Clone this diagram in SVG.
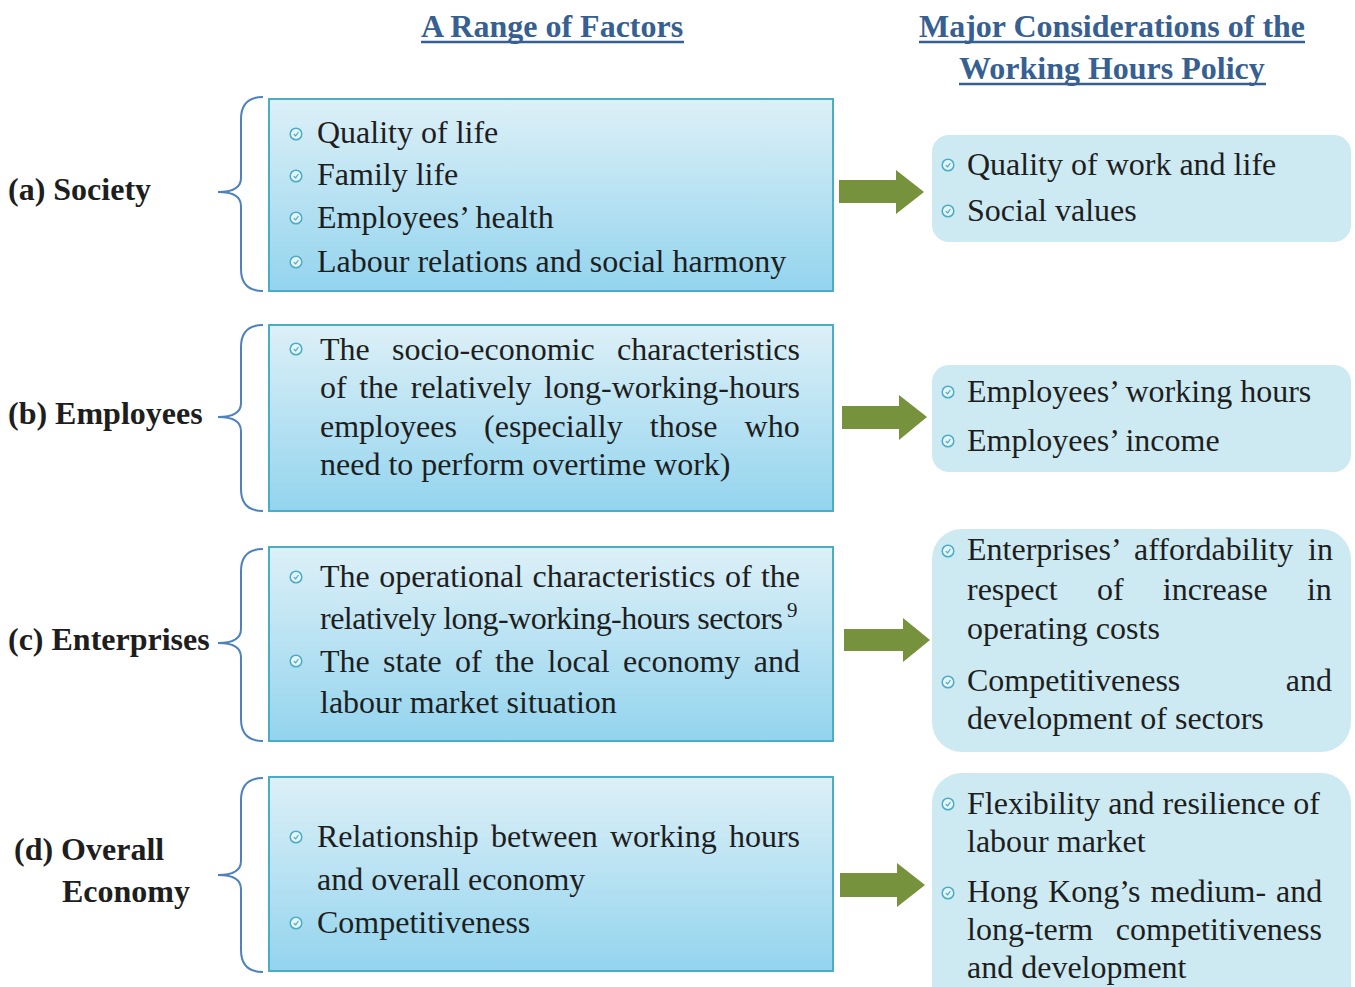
<svg xmlns="http://www.w3.org/2000/svg" width="1355" height="987" viewBox="0 0 1355 987">
<defs>
<linearGradient id="boxGrad" x1="0" y1="0" x2="0" y2="1">
<stop offset="0" stop-color="#ddf0f7"/>
<stop offset="1" stop-color="#93d4ee"/>
</linearGradient>
<symbol id="clock" viewBox="-7 -7 14 14" overflow="visible">
<circle cx="0" cy="0" r="5.8" fill="#e4f4f9" stroke="#4bacc6" stroke-width="1.5"/>
<path d="M-2.2,0.2 L-0.3,1.8 L2.4,-2" fill="none" stroke="#4bacc6" stroke-width="1.2"/>
</symbol>
<style>
.t{font-family:"Liberation Serif","Times New Roman",serif;font-size:32px;fill:#1e1e1e}
.lbl{font-family:"Liberation Serif","Times New Roman",serif;font-size:32px;font-weight:bold;fill:#1e1e1e}
.hd{font-family:"Liberation Serif","Times New Roman",serif;font-size:32px;font-weight:bold;fill:#376092}
.ul{stroke:#376092;stroke-width:2.6}
.lbox{fill:url(#boxGrad);stroke:#4bacc6;stroke-width:2}
.rbox{fill:#cdeaf2}
.brace{fill:none;stroke:#4f81bd;stroke-width:2}
.arrow{fill:#76923c}
</style>
</defs>
<rect x="0" y="0" width="1355" height="987" fill="#ffffff"/>

<g id="headings">
<text class="hd" x="421" y="37">A Range of Factors</text>
<line class="ul" x1="421" y1="42" x2="684" y2="42"/>
<text class="hd" x="919" y="37">Major Considerations of the</text>
<line class="ul" x1="919" y1="42" x2="1305" y2="42"/>
<text class="hd" x="959" y="79">Working Hours Policy</text>
<line class="ul" x1="959" y1="84" x2="1266" y2="84"/>
</g>

<g id="label-a"><text class="lbl" x="8" y="200">(a) Society</text></g>
<g id="label-b"><text class="lbl" x="8" y="424">(b) Employees</text></g>
<g id="label-c"><text class="lbl" x="8" y="650">(c) Enterprises</text></g>
<g id="label-d"><text class="lbl" x="14" y="860">(d) Overall</text><text class="lbl" x="62" y="902">Economy</text></g>

<g id="braces">
<path class="brace" d="M263,97 C248,97 241,105 241,119 L241,178 C241,187 233,192 218,192 C233,192 241,197 241,206 L241,269 C241,283 248,291 263,291"/>
<path class="brace" d="M263,325 C248,325 241,333 241,347 L241,403 C241,412 233,417 218,417 C233,417 241,422 241,431 L241,489 C241,503 248,511 263,511"/>
<path class="brace" d="M263,549 C248,549 241,557 241,571 L241,629 C241,638 233,643 218,643 C233,643 241,648 241,657 L241,719 C241,733 248,741 263,741"/>
<path class="brace" d="M263,778 C248,778 241,786 241,800 L241,861 C241,870 233,875 218,875 C233,875 241,880 241,889 L241,950 C241,964 248,972 263,972"/>
</g>

<g id="box-a">
<rect class="lbox" x="269" y="99" width="564" height="192"/>
<use href="#clock" x="289" y="127" width="14" height="14"/>
<text class="t" x="317" y="143">Quality of life</text>
<use href="#clock" x="289" y="169" width="14" height="14"/>
<text class="t" x="317" y="185">Family life</text>
<use href="#clock" x="289" y="211" width="14" height="14"/>
<text class="t" x="317" y="228">Employees’ health</text>
<use href="#clock" x="289" y="255" width="14" height="14"/>
<text class="t" x="317" y="272">Labour relations and social harmony</text>
</g>

<g id="box-b">
<rect class="lbox" x="269" y="325" width="564" height="186"/>
<use href="#clock" x="289" y="342" width="14" height="14"/>
<text class="t" x="320" y="360" word-spacing="14.3">The socio-economic characteristics</text>
<text class="t" x="320" y="398" word-spacing="4.5">of the relatively long-working-hours</text>
<text class="t" x="320" y="437" word-spacing="19.2">employees (especially those who</text>
<text class="t" x="320" y="475">need to perform overtime work)</text>
</g>

<g id="box-c">
<rect class="lbox" x="269" y="547" width="564" height="194"/>
<use href="#clock" x="289" y="570" width="14" height="14"/>
<text class="t" x="320" y="587" word-spacing="1.4">The operational characteristics of the</text>
<text class="t" x="320" y="629" textLength="463" lengthAdjust="spacing">relatively long-working-hours sectors</text>
<text class="t" x="787" y="617" style="font-size:21px">9</text>
<use href="#clock" x="289" y="654" width="14" height="14"/>
<text class="t" x="320" y="672" word-spacing="5.35">The state of the local economy and</text>
<text class="t" x="320" y="713">labour market situation</text>
</g>

<g id="box-d">
<rect class="lbox" x="269" y="777" width="564" height="194"/>
<use href="#clock" x="289" y="830" width="14" height="14"/>
<text class="t" x="317" y="847" word-spacing="4.3">Relationship between working hours</text>
<text class="t" x="317" y="890">and overall economy</text>
<use href="#clock" x="289" y="916" width="14" height="14"/>
<text class="t" x="317" y="933">Competitiveness</text>
</g>

<g id="connectors">
<polygon class="arrow" points="839,180 896,180 896,170 924,192 896,214 896,203 839,203"/>
<polygon class="arrow" points="842,406 899,406 899,395 927,417 899,440 899,429 842,429"/>
<polygon class="arrow" points="844,629 903,629 903,618 930,640 903,662 903,651 844,651"/>
<polygon class="arrow" points="840,873 897,873 897,863 925,885 897,907 897,897 840,897"/>
</g>

<g id="out-1">
<rect class="rbox" x="932" y="135" width="419" height="107" rx="17"/>
<use href="#clock" x="941" y="158" width="14" height="14"/>
<text class="t" x="967" y="175">Quality of work and life</text>
<use href="#clock" x="941" y="204" width="14" height="14"/>
<text class="t" x="967" y="221">Social values</text>
</g>

<g id="out-2">
<rect class="rbox" x="932" y="365" width="419" height="107" rx="17"/>
<use href="#clock" x="941" y="385" width="14" height="14"/>
<text class="t" x="967" y="402">Employees’ working hours</text>
<use href="#clock" x="941" y="434" width="14" height="14"/>
<text class="t" x="967" y="451">Employees’ income</text>
</g>

<g id="out-3">
<rect class="rbox" x="932" y="529" width="419" height="223" rx="30"/>
<use href="#clock" x="941" y="544" width="14" height="14"/>
<text class="t" x="967" y="560" word-spacing="6.75">Enterprises’ affordability in</text>
<text class="t" x="967" y="600" word-spacing="31.3">respect of increase in</text>
<text class="t" x="967" y="639">operating costs</text>
<use href="#clock" x="941" y="675" width="14" height="14"/>
<text class="t" x="967" y="691" word-spacing="97.5">Competitiveness and</text>
<text class="t" x="967" y="729">development of sectors</text>
</g>

<g id="out-4">
<rect class="rbox" x="932" y="773" width="419" height="250" rx="30"/>
<use href="#clock" x="941" y="797" width="14" height="14"/>
<text class="t" x="967" y="814">Flexibility and resilience of</text>
<text class="t" x="967" y="852">labour market</text>
<use href="#clock" x="941" y="886" width="14" height="14"/>
<text class="t" x="967" y="902" word-spacing="2">Hong Kong’s medium- and</text>
<text class="t" x="967" y="940" word-spacing="14.6">long-term competitiveness</text>
<text class="t" x="967" y="978">and development</text>
</g>
</svg>
